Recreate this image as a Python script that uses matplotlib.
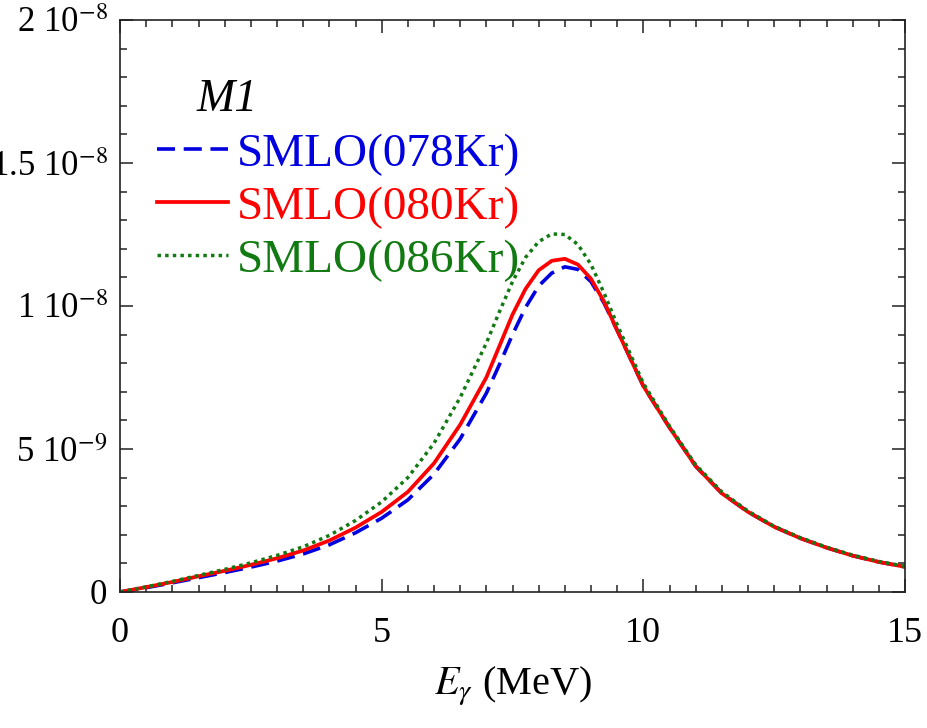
import matplotlib
matplotlib.use("Agg")
import matplotlib.pyplot as plt
from matplotlib.ticker import FixedLocator, MultipleLocator

plt.rcParams["font.family"] = ["Liberation Serif", "DejaVu Serif"]
plt.rcParams["mathtext.fontset"] = "stix"

# photon energy (MeV) and M1 strength values
e_gamma = [0, 0.5, 1, 1.5, 2, 2.5, 3, 3.5, 4, 4.5, 5, 5.5, 6, 6.5, 7, 7.25,
           7.5, 7.75, 8, 8.25, 8.5, 8.75, 9, 9.25, 9.5, 10, 10.5, 11, 11.5,
           12, 12.5, 13, 13.5, 14, 14.5, 15]

kr078 = [0, 0.15, 0.32, 0.50, 0.68, 0.87, 1.08, 1.33, 1.65, 2.07, 2.58, 3.22,
         4.12, 5.35, 6.95, 7.95, 9.0, 9.95, 10.7, 11.15, 11.37, 11.28, 10.85,
         10.1, 9.15, 7.2, 5.75, 4.4, 3.45, 2.8, 2.28, 1.88, 1.55, 1.27, 1.05,
         0.88]

kr080 = [0, 0.17, 0.35, 0.55, 0.74, 0.95, 1.18, 1.45, 1.80, 2.25, 2.80, 3.50,
         4.50, 5.85, 7.5, 8.6, 9.7, 10.6, 11.25, 11.58, 11.65, 11.45, 10.95,
         10.15, 9.15, 7.2, 5.75, 4.4, 3.45, 2.8, 2.28, 1.88, 1.55, 1.27, 1.05,
         0.88]

kr086 = [0, 0.18, 0.37, 0.58, 0.79, 1.02, 1.28, 1.58, 1.98, 2.50, 3.15, 4.0,
         5.2, 6.8, 8.7, 9.8, 10.85, 11.7, 12.25, 12.52, 12.5, 12.15, 11.45,
         10.45, 9.35, 7.3, 5.8, 4.45, 3.5, 2.83, 2.3, 1.9, 1.57, 1.29, 1.07,
         0.9]

scale = 1e-9
ytick_vals = [0, 5e-9, 1e-8, 1.5e-8, 2e-8]
ytick_labels = ["0", r"5 10$^{-9}$", r"1 10$^{-8}$", r"1.5 10$^{-8}$", r"2 10$^{-8}$"]
xtick_vals = [0, 5, 10, 15]

fig = plt.figure(figsize=(9.27, 7.28), dpi=100)
ax = fig.add_axes([120 / 927, 136 / 728, 785 / 927, 572 / 728])

ax.plot(e_gamma, [v * scale for v in kr078], color="#0000e0", lw=2.6,
        dashes=(5, 2.4), label="SMLO(078Kr)")
ax.plot(e_gamma, [v * scale for v in kr080], color="#ff0000", lw=2.7,
        label="SMLO(080Kr)")
ax.plot(e_gamma, [v * scale for v in kr086], color="#127a12", lw=2.5,
        dashes=(1, 1.2), label="SMLO(086Kr)")

ax.set_xlim(0, 15)
ax.set_ylim(0, 2e-8)
ax.xaxis.set_major_locator(FixedLocator(xtick_vals))
ax.xaxis.set_minor_locator(MultipleLocator(0.5))
ax.yaxis.set_major_locator(FixedLocator(ytick_vals))
ax.yaxis.set_minor_locator(MultipleLocator(1e-9))
ax.set_yticklabels(ytick_labels)

ax.tick_params(which="both", direction="in", top=True, right=True,
               width=1.1, color="#222222", labelsize=25)
ax.tick_params(which="major", length=9.5)
ax.tick_params(which="minor", length=5)
ax.tick_params(axis="x", pad=18, labelsize=26)
ax.tick_params(axis="y", pad=9)
for s in ax.spines.values():
    s.set_linewidth(1.2)
    s.set_color("#222222")

ax.set_xlabel(r"$E_{\gamma}$ (MeV)", fontsize=29, labelpad=10)

ax.text(0.098, 0.86, "M1", transform=ax.transAxes, fontsize=33,
        style="italic", va="center", ha="left")
leg = ax.legend(loc="upper left", bbox_to_anchor=(0.047, 0.803), frameon=False,
                fontsize=34, handlelength=1.5, handletextpad=0.19,
                labelspacing=0.21, borderaxespad=0, borderpad=0)
for txt, ln in zip(leg.get_texts(), leg.get_lines()):
    txt.set_color(ln.get_color())

fig.savefig("out.png", dpi=100)
